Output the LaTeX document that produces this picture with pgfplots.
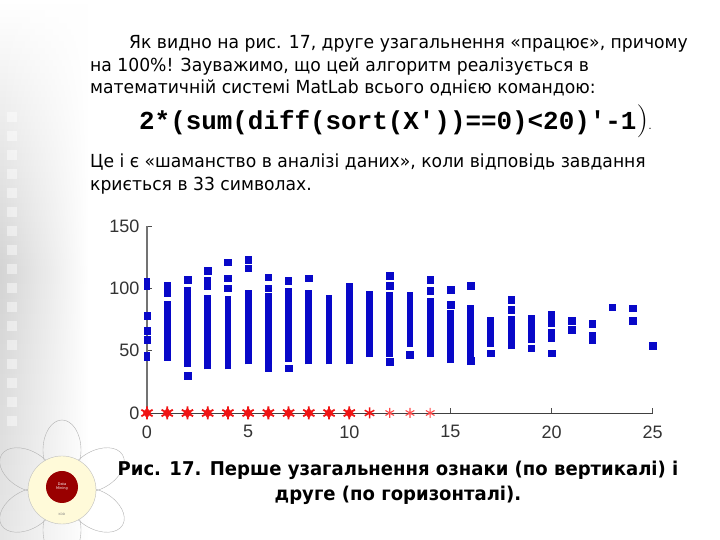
\documentclass[border=0pt]{standalone}
\usepackage{fontspec}
\usepackage{pgfplots}
\pgfplotsset{compat=1.18}
\usetikzlibrary{fadings}
\setmainfont{DejaVu Sans}
\newfontfamily\txtfont{DejaVu Sans}[FakeStretch=0.955]
\newfontfamily\capfont{DejaVu Sans}[FakeStretch=0.95]
\newfontfamily\codefont{Liberation Mono}
\newfontfamily\lmfont{Latin Modern Roman}
\newfontfamily\tickfont{Liberation Sans}
\definecolor{mblue}{RGB}{8,8,200}
\definecolor{mred}{RGB}{240,20,20}
\begin{document}
\begin{tikzpicture}[x=1pt,y=1pt]
\path[use as bounding box] (0,0) rectangle (720,540);
\fill[white] (0,0) rectangle (720,540);
% left strip
\shade[top color=white, bottom color=black!10, middle color=black!17, path fading=east] (0,0) rectangle (88,540);
\foreach \k in {0,...,16}{
  \fill[white, opacity=0.45] (7,{540-112-\k*19}) rectangle (17,{540-122-\k*19});
}
% flower decoration
\begin{scope}
\clip (0,0) rectangle (720,540);
\begin{scope}[shift={(62,50)}]
  \foreach \a in {90,30,-30,-90,-150,150}{
    \draw[black!30, line width=0.4pt, rotate=\a] (40,0) ellipse (30 and 19);
  }
  \fill[orange!25!yellow!15!white, draw=black!25] (0,0) circle (34);
  \fill[red!60!black] (0,3) circle (16);
  \node[text=white, font=\fontsize{3.5}{4}\selectfont, align=center] at (0,3) {Data\\Mining};
  \node[text=black!50, font=\fontsize{3}{3}\selectfont] at (0,-24) {KDD};
\end{scope}
\end{scope}
% text
\node[anchor=base west, inner sep=0, font=\txtfont\fontsize{18}{21}\selectfont] at (129,491.5) {Як видно на рис. 17, друге узагальнення «працює», причому};
\node[anchor=base west, inner sep=0, font=\txtfont\fontsize{18}{21}\selectfont] at (90,468.5) {на 100\%! Зауважимо, що цей алгоритм реалізується в};
\node[anchor=base west, inner sep=0, font=\txtfont\fontsize{18}{21}\selectfont] at (90,446) {математичній системі MatLab всього однією командою:};
\node[anchor=base west, inner sep=0, font=\codefont\bfseries\fontsize{25.9}{26}\selectfont] at (139,410.5) {2*(sum(diff(sort(X\textquotesingle))==0)<20)\textquotesingle-1{\lmfont\mdseries\fontsize{33}{33}\selectfont)}{\lmfont\mdseries\fontsize{16}{16}\selectfont.}};
\node[anchor=base west, inner sep=0, font=\txtfont\fontsize{18}{21}\selectfont] at (90,372.5) {Це і є «шаманство в аналізі даних», коли відповідь завдання};
\node[anchor=base west, inner sep=0, font=\txtfont\fontsize{18}{21}\selectfont] at (90,349.5) {криється в 33 символах.};
\node[anchor=base, inner sep=0, font=\capfont\bfseries\fontsize{19}{21}\selectfont] at (398,64) {Рис. 17. Перше узагальнення ознаки (по вертикалі) і};
\node[anchor=base, inner sep=0, font=\capfont\bfseries\fontsize{19}{21}\selectfont] at (398,39) {друге (по горизонталі).};
\begin{axis}[
  at={(147pt,127pt)}, anchor=south west, scale only axis,
  width=505.7pt, height=187pt,
  xmin=0, xmax=25, ymin=0, ymax=150,
  axis x line*=bottom, axis y line*=left,
  x axis line style={-, draw=black!75, line width=0.9pt},
  y axis line style={-, draw=black!55, line width=1.1pt},
  xtick={0,5,...,25}, ytick={0,50,100,150},
  tick align=inside, major tick length=5pt,
  tick style={black!70, line width=0.9pt},
  ticklabel style={font=\tickfont\fontsize{18}{18}\selectfont, text=black!80},
  /pgf/number format/assume math mode=true,
  xticklabel style={yshift=-9pt},
  yticklabel style={xshift=-4pt},
  clip=false,
  unbounded coords=jump,
]
% blue bars (continuous runs of squares)
\addplot[mblue, line width=6.8pt, line cap=butt] coordinates {
(0,42) (0,49) (0,nan)
(0,99) (0,108) (0,nan)
(1,42) (1,80) (1,nan)
(2,37) (2,101) (2,nan)
(3,99) (3,109) (3,nan)
(3,35) (3,95) (3,nan)
(4,35) (4,94) (4,nan)
(5,39) (5,99) (5,nan)
(6,33) (6,96) (6,nan)
(7,103) (7,109) (7,nan)
(7,41) (7,100) (7,nan)
(8,39) (8,99) (8,nan)
(9,39) (9,95) (9,nan)
(10,39) (10,104) (10,nan)
(11,45) (11,98) (11,nan)
(12,45) (12,97) (12,nan)
(13,53) (13,97) (13,nan)
(14,45) (14,92) (14,nan)
(15,40) (15,83) (15,nan)
(16,45) (16,87) (16,nan)
(17,53) (17,77) (17,nan)
(18,51) (18,78) (18,nan)
(19,56) (19,79) (19,nan)
(20,69) (20,82) (20,nan)
(20,57) (20,67)
};
% blue single squares
\addplot[only marks, mark=square*, mark size=3.3pt, mblue, mark options={draw=mblue, fill=mblue}] coordinates {
(0,78) (0,66) (0,59)
(1,102) (1,96) (1,87) (1,83)
(2,107) (2,30)
(3,114)
(4,121) (4,108) (4,100)
(5,123) (5,116)
(6,109) (6,100)
(7,36)
(8,108)
(12,110) (12,102) (12,41)
(13,47)
(14,107) (14,98)
(15,99) (15,87)
(16,102) (16,42)
(17,48)
(18,91) (18,83)
(19,52)
(20,48)
(21,74) (21,67)
(22,71.5) (22,62) (22,59)
(23,85)
(24,84) (24,74)
(25,54)
};
% red stars
\addplot[only marks, mark=diamond*, mark size=5pt, mred, mark options={draw=mred, fill=mred}] coordinates {
(0,0) (1,0) (2,0) (3,0) (4,0) (5,0) (6,0) (7,0) (8,0) (9,0) (10,0)
};
\addplot[only marks, mark=asterisk, mark size=6.5pt, mred, mark options={line width=1.8pt}] coordinates {
(0,0) (1,0) (2,0) (3,0) (4,0) (5,0) (6,0) (7,0) (8,0) (9,0) (10,0)
};
\addplot[only marks, mark=asterisk, mark size=5.5pt, mred, mark options={line width=1.5pt}] coordinates {
(11,0)
};
\addplot[only marks, mark=asterisk, mark size=5pt, red!70, mark options={line width=1.1pt}] coordinates {
(12,0) (13,0) (14,0)
};
\end{axis}
\end{tikzpicture}
\end{document}
